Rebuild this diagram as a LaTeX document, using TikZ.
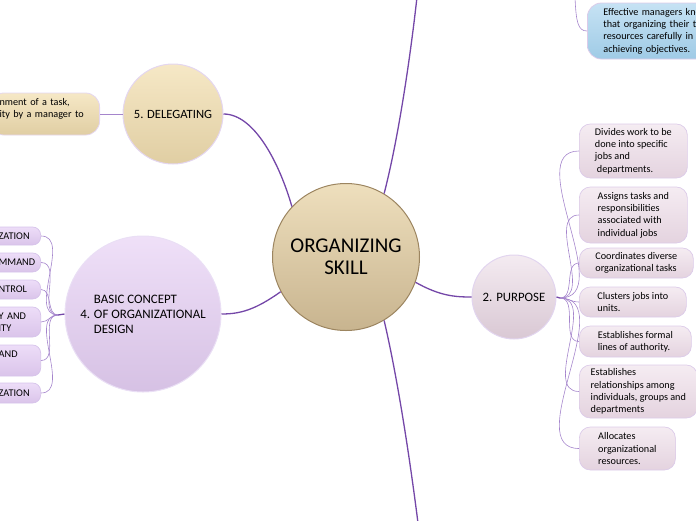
\documentclass[tikz,border=0pt]{standalone}
\usepackage{fontspec}
\setmainfont{Carlito}
\definecolor{mainline}{HTML}{7447A8}
\definecolor{twigline}{HTML}{A585CC}
\definecolor{ctop}{HTML}{EEDFBD}
\definecolor{cbot}{HTML}{C8B48F}
\definecolor{cline}{HTML}{9C8560}
\definecolor{dtop}{HTML}{F6E8C6}
\definecolor{dbot}{HTML}{E0CEA3}
\definecolor{dline}{HTML}{E4D6F0}
\definecolor{btop}{HTML}{EFE0F8}
\definecolor{bbot}{HTML}{D6C1E4}
\definecolor{bline}{HTML}{EADFF5}
\definecolor{ltop}{HTML}{EDDDF8}
\definecolor{lbot}{HTML}{DAC4EA}
\definecolor{lline}{HTML}{D6C3EA}
\definecolor{ptop}{HTML}{F4EBF1}
\definecolor{pbot}{HTML}{D9C8D4}
\definecolor{pline}{HTML}{E2D5EF}
\definecolor{rtop}{HTML}{F5ECF2}
\definecolor{rbot}{HTML}{E4D3DF}
\definecolor{rline}{HTML}{DCCBE9}
\definecolor{bltop}{HTML}{C6E2F4}
\definecolor{blbot}{HTML}{9FCBE6}
\newcommand\bxfont{\fontsize{10.2pt}{12.3pt}\selectfont}
\newcommand\lbxfont{\fontsize{10.3pt}{12pt}\selectfont}
\begin{document}
\begin{tikzpicture}[x=1pt,y=-1pt,
  mainconn/.style={draw=mainline, line width=1.3pt},
  twig/.style={draw=twigline, line width=0.6pt},
  rbox/.style={rounded corners=11pt, draw=rline, line width=0.7pt, top color=rtop, bottom color=rbot,
     align=left, inner xsep=4pt, inner ysep=2pt, font=\bxfont, anchor=west},
  lbox/.style={rounded corners=8pt, draw=lline, line width=0.7pt, top color=ltop, bottom color=lbot,
     align=left, text width=30pt, inner xsep=12pt, inner ysep=2pt, anchor=east, font=\lbxfont},
  bubble/.style={circle, inner sep=0pt, align=center, line width=1pt}
]
\useasboundingbox (0,0) rectangle (696,520);
\clip (0,0) rectangle (696,520);

% main circles
\node[bubble, draw=cline, top color=ctop, bottom color=cbot, minimum size=147pt,
  font=\fontsize{21pt}{22pt}\selectfont] (central) at (346,257) {ORGANIZING\\SKILL};
\node[bubble, draw=dline, top color=dtop, bottom color=dbot, minimum size=100pt,
  font=\fontsize{12.6pt}{14pt}\selectfont] (deleg) at (173,114) {5. DELEGATING};
\node[bubble, draw=bline, top color=btop, bottom color=bbot, minimum size=156pt,
  font=\fontsize{12.9pt}{15pt}\selectfont, align=left] (basic) at (143,314)
  {\phantom{4. }BASIC CONCEPT\\4. OF ORGANIZATIONAL\\\phantom{4. }DESIGN};
\node[bubble, draw=pline, top color=ptop, bottom color=pbot, minimum size=84pt,
  font=\fontsize{12.8pt}{14pt}\selectfont] (purpose) at (514,297) {2. PURPOSE};

% delegating box
\node[rounded corners=14pt, draw=dline, line width=0.8pt, top color=dtop, bottom color=dbot,
  align=left, text width=90pt, inner xsep=10pt, inner ysep=2pt, minimum height=42pt,
  anchor=east, font=\bxfont] (delbox) at (100,114)
  {nment of a task,\\ity by a manager to\\~};

% blue box
\node[rounded corners=14pt, draw=rline, line width=0.8pt, top color=bltop, bottom color=blbot,
  align=left, text width=110pt, inner xsep=16pt, inner ysep=2pt, minimum height=56pt,
  anchor=west, font=\bxfont] (blue) at (587,31)
  {Effective managers kno\\that organizing their tea\\resources carefully in\\achieving objectives.};

% left boxes
\node[lbox, minimum height=18pt] (l1) at (41,236) {ZATION};
\node[lbox, minimum height=19pt] (l2) at (41,262.5) {MMAND};
\node[lbox, minimum height=19pt] (l3) at (41,289.5) {NTROL};
\node[lbox, minimum height=30pt] (l4) at (41,322) {Y AND\\ITY};
\node[lbox, minimum height=31pt] (l5) at (41,360.5) {AND\\~};
\node[lbox, minimum height=20pt] (l6) at (41,393) {ZATION};

% right boxes
\node[rbox, minimum width=108pt, minimum height=54pt] (r1) at (579,151)
  {Divides work to be\\done into specific\\jobs and\\\hspace{2pt}departments.};
\node[rbox, minimum width=108pt, minimum height=56pt] (r2) at (579,215)
  {Assigns tasks and\\responsibilities\\associated with\\individual jobs};
\node[rbox, minimum width=114pt, minimum height=30pt] (r3) at (579,263)
  {Coordinates diverse\\organizational tasks};
\node[rbox, minimum width=107pt, minimum height=30pt] (r4) at (579,302)
  {Clusters jobs into\\units.};
\node[rbox, minimum width=112pt, minimum height=31pt] (r5) at (579,341.5)
  {Establishes formal\\lines of authority.};
\node[rbox, minimum width=118pt, minimum height=53pt] (r6) at (579,391.5)
  {Establishes\\relationships among\\individuals, groups and\\departments};
\node[rbox, minimum width=96pt, minimum height=43pt] (r7) at (579,448.5)
  {Allocates\\organizational\\resources.};

% free ends and hubs
\coordinate (topend) at (417,-3);
\coordinate (botend) at (418,523);
\coordinate (bluetop) at (575,-3);
\coordinate (hubL) at (58,315);
\coordinate (hubR) at (560,298);

% main connectors
\draw[mainconn] (central.59) .. controls (398,140) and (410,60) .. (topend);
\draw[mainconn] (central.-59) .. controls (398,380) and (410,460) .. (botend);
\draw[mainconn] (central.-20) .. controls (440,296) and (455,297) .. (purpose.west);
\draw[mainconn] (central.137) .. controls (280,165) and (255,114) .. (deleg.east);
\draw[mainconn] (central.208) .. controls (255,310) and (240,314) .. (basic.east);
\draw[twig, line width=0.9pt] (deleg.west) -- (delbox.east);
\draw[twig] (bluetop) .. controls (576,22) and (578,31) .. (blue.west);

% fans
\draw[mainconn] (basic.west) -- (hubL);
\foreach \b in {l1,l2,l3,l4,l5,l6}
  \draw[twig] (hubL) to[out=180,in=0] (\b.east);
\draw[mainconn] (purpose.east) -- (hubR);
\foreach \b in {r1,r2,r3,r4,r5,r6,r7}
  \draw[twig] (hubR) to[out=0,in=180] (\b.west);
\end{tikzpicture}
\end{document}
